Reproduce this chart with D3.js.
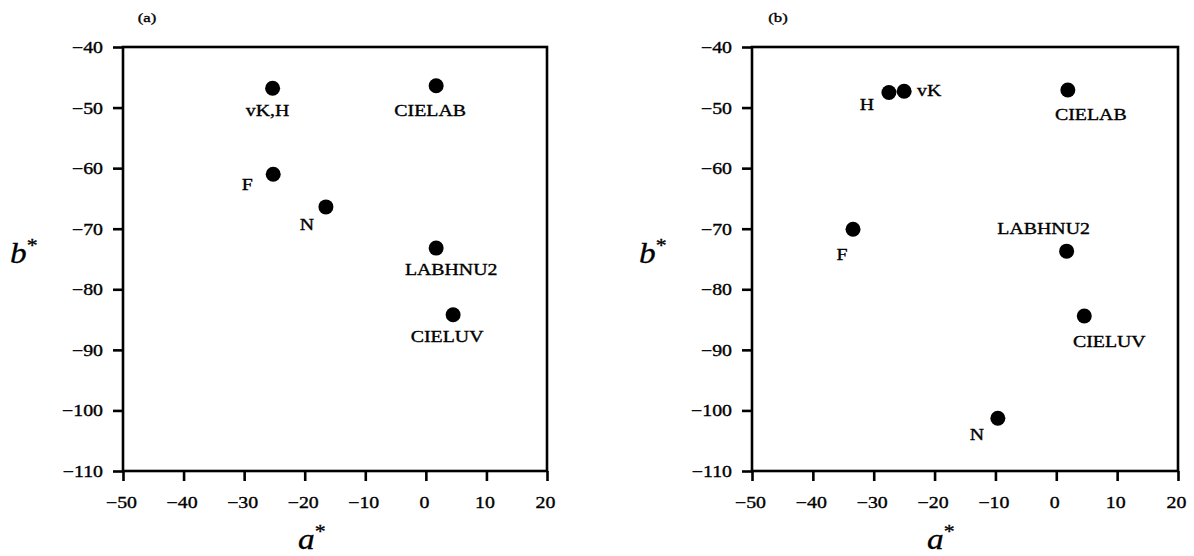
<!DOCTYPE html>
<html><head><meta charset="utf-8">
<script src="https://cdn.jsdelivr.net/npm/d3@7"></script>
<style>body{margin:0;background:#fff}</style>
</head><body><svg id="c" width="1194" height="556"></svg>
<script>
// ---- data ----
const namesA = ["vK,H", "CIELAB", "F", "N", "LABHNU2", "CIELUV"];
const aStarA = [-25.3, 1.7, -25.2, -16.5, 1.7, 4.5];
const bStarA = [-46.8, -46.4, -61.0, -66.4, -73.2, -84.2];

const namesB = ["H", "vK", "CIELAB", "F", "LABHNU2", "CIELUV", "N"];
const aStarB = [-27.5, -25.0, 1.9, -33.4, 1.7, 4.6, -9.6];
const bStarB = [-47.5, -47.3, -47.1, -70.1, -73.7, -84.4, -101.3];

const xTicks = [-50, -40, -30, -20, -10, 0, 10, 20];
const yTicks = [-40, -50, -60, -70, -80, -90, -100, -110];
const panelTags = ["(a)", "(b)"];
const xTitle = "a", yTitle = "b";

// ---- layout (positions & styles, not data) ----
const FONT = "'Liberation Serif', 'Times New Roman', serif";
const SX = 1.24;  // horizontal text stretch
const panels = [
  {left: 123, right: 547, top: 47, bottom: 471,
   offsets: {"vK,H": [-5, 28], "CIELAB": [-6, 30], "F": [-26, 16], "N": [-19, 23], "LABHNU2": [15, 27], "CIELUV": [-6, 27]}},
  {left: 752, right: 1178, top: 47, bottom: 471,
   offsets: {"H": [-22, 18], "vK": [25, 5], "CIELAB": [23, 30], "F": [-11, 31], "LABHNU2": [-23, -17], "CIELUV": [25, 31], "N": [-21, 22]}}
];
const datasets = [
  {names: namesA, a: aStarA, b: bStarA},
  {names: namesB, a: aStarB, b: bStarB}
];

const svg = d3.select("#c");
svg.append("rect").attr("width", 1194).attr("height", 556).attr("fill", "#fff");

function styleText(sel, size) {
  return sel.attr("font-family", FONT).attr("font-size", size)
    .attr("fill", "#000").attr("stroke", "#000").attr("stroke-width", 0.35);
}

panels.forEach((p, i) => {
  const ds = datasets[i];
  const x = d3.scaleLinear().domain([xTicks[0], xTicks[xTicks.length - 1]]).range([p.left, p.right]);
  const y = d3.scaleLinear().domain([yTicks[yTicks.length - 1], yTicks[0]]).range([p.bottom, p.top]);
  const g = svg.append("g");

  // axes
  const gx = g.append("g").attr("transform", `translate(0,${p.bottom})`)
    .call(d3.axisBottom(x).tickValues(xTicks).tickSize(10).tickSizeOuter(0).tickFormat(d3.format("d")));
  const gy = g.append("g").attr("transform", `translate(${p.left},0)`)
    .call(d3.axisLeft(y).tickValues(yTicks).tickSize(10).tickSizeOuter(0).tickFormat(d3.format("d")));
  [gx, gy].forEach(ax => {
    ax.select(".domain").remove();
    ax.selectAll(".tick line").attr("stroke", "#000").attr("stroke-width", 2.6);
  });
  gx.selectAll(".tick text").each(function () {
    const t = d3.select(this);
    t.attr("x", null).attr("y", null).attr("dy", null).attr("text-anchor", "middle")
      .attr("transform", `translate(-2,37) scale(${SX},1)`);
    styleText(t, 16);
  });
  gy.selectAll(".tick text").each(function () {
    const t = d3.select(this);
    t.attr("x", null).attr("y", null).attr("dy", null).attr("text-anchor", "end")
      .attr("transform", `translate(-20,5.5) scale(${SX},1)`);
    styleText(t, 16);
  });

  // frame
  g.append("rect").attr("x", p.left).attr("y", p.top)
    .attr("width", p.right - p.left).attr("height", p.bottom - p.top)
    .attr("fill", "none").attr("stroke", "#000").attr("stroke-width", 2.6);

  // points
  const pts = ds.names.map((n, k) => ({name: n, a: ds.a[k], b: ds.b[k]}));
  g.selectAll("circle.pt").data(pts).join("circle").attr("class", "pt")
    .attr("cx", d => x(d.a)).attr("cy", d => y(d.b)).attr("r", 7.5).attr("fill", "#000");

  // point labels
  g.selectAll("text.lbl").data(pts).join("text").attr("class", "lbl")
    .attr("text-anchor", "middle")
    .attr("transform", d => {
      const o = p.offsets[d.name];
      return `translate(${x(d.a) + o[0]},${y(d.b) + o[1]}) scale(${SX},1)`;
    })
    .text(d => d.name)
    .call(s => styleText(s, 16));

  // panel tag
  styleText(g.append("text"), 13.5).attr("text-anchor", "middle")
    .attr("transform", `translate(${p.left + 24 + (i ? 2 : 0)},22) scale(${SX},1)`)
    .text(panelTags[i]);

  // axis titles
  const yt = g.append("text").attr("transform", `translate(${p.left - 113},263) scale(1.15,1)`);
  styleText(yt, 29).attr("stroke-width", 0.3);
  yt.append("tspan").attr("font-style", "italic").text(yTitle);
  yt.append("tspan").attr("font-size", 19).attr("dy", -11).text("*");

  const xt = g.append("text").attr("transform", `translate(${p.left + 175},549) scale(1.15,1)`);
  styleText(xt, 29).attr("stroke-width", 0.3);
  xt.append("tspan").attr("font-style", "italic").text(xTitle);
  xt.append("tspan").attr("font-size", 19).attr("dy", -11).text("*");
});
</script>
</body></html>
